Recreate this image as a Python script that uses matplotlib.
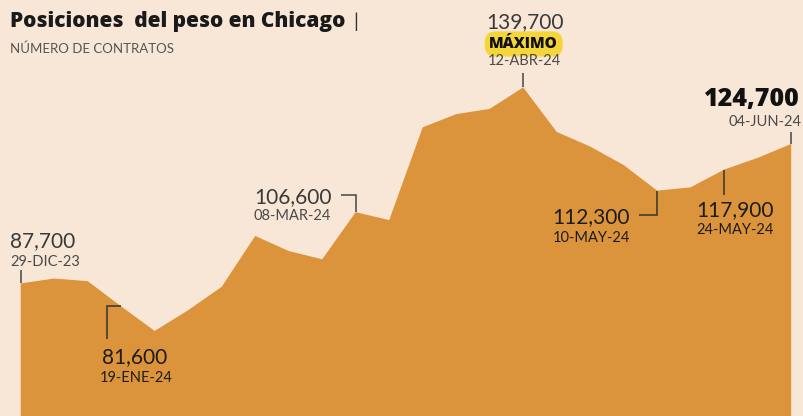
import matplotlib
matplotlib.use("Agg")
from matplotlib import pyplot as plt

# weekly positions, 29-DIC-23 .. 04-JUN-24
contracts = [
    87700, 89000, 88300, 81600, 75100, 80600, 86800, 100300, 96300, 94100,
    106600, 104500, 129100, 132600, 134000, 139700, 127900, 124000, 119100,
    112300, 113200, 117900, 121000, 124700,
]
dates = [
    "29-DIC-23", "05-ENE-24", "12-ENE-24", "19-ENE-24", "26-ENE-24", "02-FEB-24",
    "09-FEB-24", "16-FEB-24", "23-FEB-24", "01-MAR-24", "08-MAR-24", "15-MAR-24",
    "22-MAR-24", "29-MAR-24", "05-ABR-24", "12-ABR-24", "19-ABR-24", "26-ABR-24",
    "03-MAY-24", "10-MAY-24", "17-MAY-24", "24-MAY-24", "31-MAY-24", "04-JUN-24",
]

BG = "#f8e7d6"
FILL = "#dc943c"
INK = "#3a3a3a"
DARK = "#1c1c1c"
FONT = "Lato"
HEAVY = "Open Sans"

plt.rcParams["font.family"] = [FONT, "DejaVu Sans"]

fig = plt.figure(figsize=(8.04, 4.16), dpi=100, facecolor=BG)
ax = fig.add_axes([0, 0, 1, 1])
ax.set_facecolor(BG)
x = list(range(len(contracts)))
ax.fill_between(x, contracts, 0, color=FILL, linewidth=0)
ax.set_xlim(-0.618, 23.382)
ax.set_ylim(52530, 162880)
ax.axis("off")

# pixel -> data scale
sx = 804 / (23.382 + 0.618)
sy = 416 / (162880 - 52530)


def connector(i, path, color="#444444"):
    xs = [i + dx / sx for dx, dy in path]
    ys = [contracts[i] + dy / sy for dx, dy in path]
    ax.plot(xs, ys, color=color, lw=1.1, solid_capstyle="butt", solid_joinstyle="miter")


def label(i, dx, dy, s, ha="left", size=15, weight="normal", color=INK, **kw):
    ax.annotate(s, (i, contracts[i]), xytext=(dx, dy), textcoords="offset pixels",
                ha=ha, va="baseline", fontsize=size, fontweight=weight, color=color,
                **kw)


def fmt(v):
    return f"{v:,}"


# 29-DIC-23
i = 0
label(i, -10.7, 36.6, fmt(contracts[i]))
label(i, -10.7, 17.3, dates[i], size=10.5, color="#4a4a4a")
connector(i, [(0, 0), (0, 13)])

# 19-ENE-24
i = 3
label(i, 13.5, -56.6, fmt(contracts[i]), ha="center", color=DARK)
label(i, 14.5, -75.6, dates[i], ha="center", size=10.5, color=DARK)
connector(i, [(0, 0), (-14, 0), (-14, -33)], color="#333333")

# 08-MAR-24
i = 10
label(i, -24, 9.4, fmt(contracts[i]), ha="right")
label(i, -25, -7.9, dates[i], ha="right", size=10.5, color="#4a4a4a")
connector(i, [(0, 0), (0, 17.5), (-14.5, 17.5)])

# 12-ABR-24 (max)
i = 15
label(i, 1.7, 59, fmt(contracts[i]), ha="center")
label(i, 0.5, 39.4, "MÁXIMO", ha="center", size=11, weight="heavy", color="#111111",
      family=HEAVY,
      bbox=dict(boxstyle="round,pad=0.3,rounding_size=0.7", fc="#f5d63a", ec="none"))
label(i, 0.7, 22.3, dates[i], ha="center", size=10.5, color="#4a4a4a")
connector(i, [(0, 0), (0, 14)])

# 10-MAY-24
i = 19
label(i, -27.2, -32.7, fmt(contracts[i]), ha="right", color=DARK)
label(i, -27.2, -51.1, dates[i], ha="right", size=10.5, color=DARK)
connector(i, [(0, 0), (0, -24.4), (-18, -24.4)], color="#333333")

# 24-MAY-24
i = 21
label(i, 11, -46.5, fmt(contracts[i]), ha="center", color=DARK)
label(i, 10.5, -64.5, dates[i], ha="center", size=10.5, color=DARK)
connector(i, [(0, 0), (0, -25)], color="#333333")

# 04-JUN-24 (last)
i = 23
label(i, 8.8, 37.9, fmt(contracts[i]), ha="right", size=18, weight="heavy",
      color="#111111", family=HEAVY)
label(i, 9.8, 17.9, dates[i], ha="right", size=10.5, color="#4a4a4a")
connector(i, [(0, 0), (0, 12)])

fig.text(10 / 804, 1 - 27.3 / 416, "Posiciones  del peso en Chicago", fontsize=15,
         fontweight="heavy", family=HEAVY, color="#1a1a1a", va="baseline", ha="left")
fig.text(353 / 804, 1 - 28 / 416, "|", fontsize=14, color="#333333", va="baseline")
fig.text(10 / 804, 1 - 53.3 / 416, "NÚMERO DE CONTRATOS", fontsize=9.5,
         color="#555555", va="baseline", ha="left")

fig.savefig("out.png", dpi=100, facecolor=BG)
